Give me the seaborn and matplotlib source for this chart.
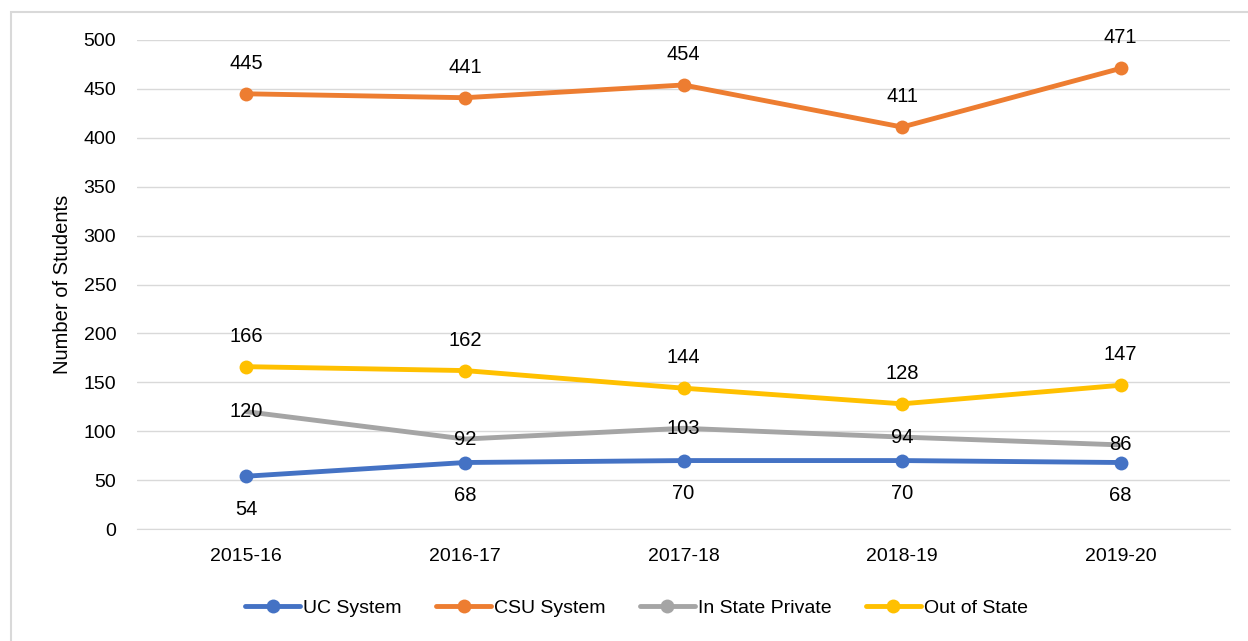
import pandas as pd
import matplotlib.pyplot as plt
import seaborn as sns
from matplotlib.lines import Line2D
from matplotlib.patches import Rectangle

years = ['2015-16', '2016-17', '2017-18', '2018-19', '2019-20']
uc = [54, 68, 70, 70, 68]
csu = [445, 441, 454, 411, 471]
private = [120, 92, 103, 94, 86]
out_state = [166, 162, 144, 128, 147]

series = ['UC System', 'CSU System', 'In State Private', 'Out of State']
colors = ['#4472C4', '#ED7D31', '#A5A5A5', '#FFC000']

df = pd.DataFrame({'Year': years * 4,
                   'Students': uc + csu + private + out_state,
                   'Group': [s for s in series for _ in years]})

sns.set_style('white')
plt.rcParams['font.family'] = ['Liberation Sans', 'DejaVu Sans']

fig = plt.figure(figsize=(12.48, 6.41), dpi=100)
ax = fig.add_axes([0.1098, 0.1747, 0.8758, 0.7629])

palette = dict(zip(series, colors))
sns.lineplot(data=df, x='Year', y='Students', hue='Group', palette=palette,
             marker='o', markersize=10, markeredgewidth=0, linewidth=3.5,
             sort=False, legend=False, ax=ax)

# gray series shows no markers in the original
for line in ax.get_lines():
    if line.get_color() in ('#A5A5A5', '#a5a5a5') or line.get_color() == (0.6470588235294118, 0.6470588235294118, 0.6470588235294118):
        line.set_marker('')

# data labels
offsets = {'UC System': -24, 'CSU System': 22, 'In State Private': 0, 'Out of State': 22}
for name, vals in zip(series, [uc, csu, private, out_state]):
    for i, v in enumerate(vals):
        ax.annotate(str(v), (i, v), xytext=(0, offsets[name]), textcoords='offset points',
                    ha='center', va='center', fontsize=14.5, color='black')

ax.set_ylim(0, 500)
ax.set_xlim(-0.5, 4.5)
ax.set_yticks(range(0, 501, 50))
ax.grid(axis='y', color='#D9D9D9', linewidth=1)
ax.set_axisbelow(True)
for s in ['top', 'right', 'left']:
    ax.spines[s].set_visible(False)
ax.spines['bottom'].set_color('#D9D9D9')
ax.tick_params(axis='y', length=0, labelsize=14, pad=15, labelcolor='black')
ax.tick_params(axis='x', length=0, labelsize=14, pad=14, labelcolor='black')
ax.set_xlabel('')
ax.set_ylabel('Number of Students', fontsize=14.5, color='black', labelpad=8)

handles = [Line2D([0], [0], color=c, linewidth=3.5, marker='o', markersize=10,
                  markeredgewidth=0) for c in colors]
fig.legend(handles, series, loc='lower center', bbox_to_anchor=(0.51, 0.01), ncol=4,
           frameon=False, fontsize=14, handlelength=2.8, columnspacing=1.8,
           handletextpad=0.15, labelcolor='black')

# chart border (cropped on right and bottom in the original)
fig.patches.append(Rectangle((11 / 1248, -0.1), 1.2, 1.1 - 11.5 / 641, transform=fig.transFigure,
                             fill=False, edgecolor='#D9D9D9', linewidth=1.5))

fig.savefig('out.png', dpi=100)
